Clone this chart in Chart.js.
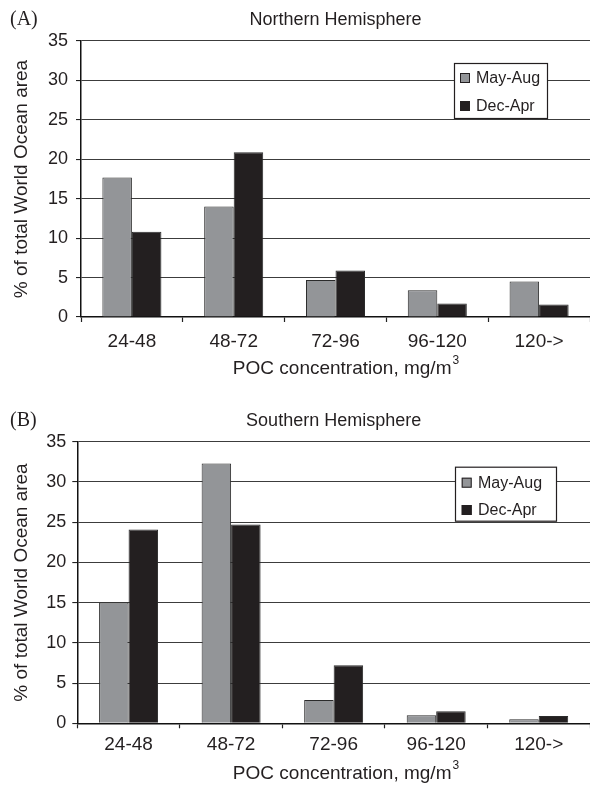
<!DOCTYPE html>
<html><head><meta charset="utf-8">
<script src="https://cdn.jsdelivr.net/npm/chart.js@4/dist/chart.umd.min.js"></script>
<style>
html,body{margin:0;padding:0;background:#fff;width:590px;height:788px;overflow:hidden;}
.panel{position:absolute;left:0;width:590px;height:394px;}
#pa{top:0}#pb{top:394px}
</style></head><body>
<div class="panel" id="pa"><canvas id="ca"></canvas></div>
<div class="panel" id="pb"><canvas id="cb"></canvas></div>
<script>
const categories = ['24-48', '48-72', '72-96', '96-120', '120->'];
const seriesNames = ['May-Aug', 'Dec-Apr'];
const northMayAug = [17.7, 14.0, 4.7, 3.4, 4.5];
const northDecApr = [10.8, 20.9, 5.9, 1.7, 1.6];
const southMayAug = [15.0, 32.3, 2.9, 1.0, 0.5];
const southDecApr = [24.1, 24.7, 7.2, 1.5, 0.9];
const yMin = 0, yMax = 35, yStep = 5;
const panelLetters = ['(A)', '(B)'];
const panelTitles = ['Northern Hemisphere', 'Southern Hemisphere'];
const xTitleMain = 'POC concentration, mg/m';
const xTitleSup = '3';
const yTitle = '% of total World Ocean area';

const FONT = "'Liberation Sans', Arial, sans-serif";
const SERIF = "'Liberation Serif', 'Times New Roman', serif";
const TXT = '#231f20';
const fills = ['#939598', '#231f20'];

const decorPlugin = {
  id: 'decor',
  afterDraw(chart, args, o) {
    const ctx = chart.ctx, ca = chart.chartArea;
    ctx.save();
    ctx.fillStyle = TXT;
    ctx.textBaseline = 'middle';
    ctx.font = '20px ' + SERIF;
    ctx.textAlign = 'left';
    ctx.fillText(o.letter, o.letterX, o.titleY);
    ctx.font = '18px ' + FONT;
    ctx.textAlign = 'center';
    ctx.fillText(o.title, (ca.left + ca.right) / 2, o.titleY);
    // x axis title with superscript
    ctx.textAlign = 'left';
    ctx.font = '19px ' + FONT;
    const wMain = ctx.measureText(xTitleMain).width;
    ctx.font = '12px ' + FONT;
    const wSup = ctx.measureText(xTitleSup).width;
    const x0 = o.xTitleCx - (wMain + wSup + 1) / 2;
    ctx.font = '19px ' + FONT;
    ctx.fillText(xTitleMain, x0, o.xTitleY);
    ctx.font = '12px ' + FONT;
    ctx.fillText(xTitleSup, x0 + wMain + 1, o.xTitleY - 8);
    // legend box
    const L = o.legend;
    ctx.fillStyle = '#fff';
    ctx.fillRect(L.x, L.y, L.w, L.h);
    ctx.strokeStyle = '#231f20';
    ctx.lineWidth = 1.2;
    ctx.strokeRect(L.x + 0.5, L.y + 0.5, L.w, L.h);
    ctx.font = '16px ' + FONT;
    ctx.textAlign = 'left';
    chart.data.datasets.forEach((ds, i) => {
      const cy = L.y + L.rows[i];
      ctx.fillStyle = ds.backgroundColor;
      ctx.fillRect(L.mx, cy - 5, 10, 10);
      ctx.strokeStyle = '#231f20';
      ctx.lineWidth = 1;
      ctx.strokeRect(L.mx + 0.5, cy - 4.5, 9, 9);
      ctx.fillStyle = TXT;
      ctx.fillText(ds.label, L.tx, cy + 1);
    });
    ctx.restore();
  }
};

function makePanel(id, idx, a, b, lay) {
  return new Chart(document.getElementById(id), {
    type: 'bar',
    data: {
      labels: categories,
      datasets: [
        { label: seriesNames[0], data: a, backgroundColor: fills[0], borderColor: '#2b2b2b', borderWidth: 1,
          categoryPercentage: lay.catPct, barPercentage: 1 },
        { label: seriesNames[1], data: b, backgroundColor: fills[1], borderColor: '#2b2b2b', borderWidth: 1,
          categoryPercentage: lay.catPct, barPercentage: 1 }
      ]
    },
    options: {
      responsive: true,
      maintainAspectRatio: false,
      animation: false,
      devicePixelRatio: 1,
      layout: { padding: { top: lay.top, left: 0, right: 0, bottom: 0 } },
      plugins: {
        legend: { display: false },
        tooltip: { enabled: false },
        decor: { letter: panelLetters[idx], title: panelTitles[idx], titleY: lay.titleY, letterX: 10,
                 legend: lay.legend, xTitleCx: 346, xTitleY: lay.xTitleY }
      },
      scales: {
        x: {
          grid: { drawOnChartArea: false, drawTicks: true, tickLength: 5, offset: true, color: '#222', tickWidth: 1.2 },
          border: { color: '#111', width: 1.5 },
          ticks: { color: TXT, font: { family: FONT, size: 19 }, padding: lay.xPad, maxRotation: 0 },
          afterFit(s) { s.height = lay.xH; }
        },
        y: {
          min: yMin, max: yMax,
          grid: { color: '#3c3c3c', lineWidth: 1.1, drawTicks: true, tickLength: 5, tickColor: '#222' },
          border: { color: '#111', width: 1.5 },
          ticks: { stepSize: yStep, color: TXT, font: { family: FONT, size: 18 }, padding: lay.yPad },
          title: { display: true, text: yTitle, color: TXT, font: { family: FONT, size: 19 }, padding: { top: lay.yTitlePad, bottom: 0 } },
          afterFit(s) { s.width = lay.left; }
        }
      }
    },
    plugins: [decorPlugin]
  });
}

makePanel('ca', 0, northMayAug, northDecApr, {
  top: 41, left: 81, xH: 77, catPct: 0.58, xPad: 8, yPad: 8, yTitlePad: 10, titleY: 20, xTitleY: 369,
  legend: { x: 454, y: 63, w: 93, h: 55, rows: [15, 43], mx: 460, tx: 476 }
});
makePanel('cb', 1, southMayAug, southDecApr, {
  top: 47.7, left: 77.3, xH: 64.7, catPct: 0.575, xPad: 5, yPad: 6, yTitlePad: 10, titleY: 26.7, xTitleY: 380,
  legend: { x: 455, y: 72.7, w: 101, h: 54, rows: [16, 43.3], mx: 461.7, tx: 478 }
});
</script>
</body></html>
